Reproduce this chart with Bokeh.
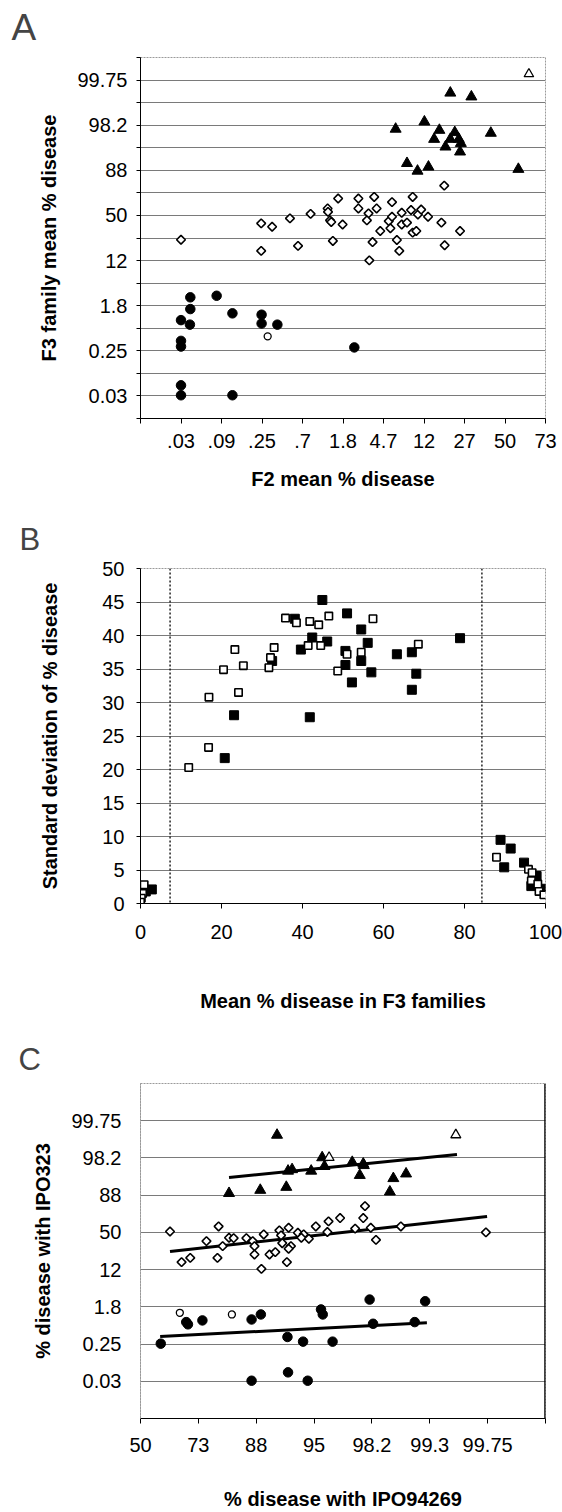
import numpy as np
from bokeh.plotting import figure
from bokeh.models import FixedTicker, Span, Range1d
from bokeh.layouts import column
from bokeh.embed import file_html
from bokeh.resources import INLINE

FONT = "Liberation Sans"

# ---------------- data (logit-scale positions for panels A and C) ----------------
# Panel A: x = F2 mean % disease (logit), y = F3 family mean % disease (logit)
a_x_ticks = [-9, -8, -7, -6, -5, -4, -3, -2, -1, 0, 1]
a_x_labels = ["", ".03", ".09", ".25", ".7", "1.8", "4.7", "12", "27", "50", "73"]
pct_ticks = [-8, -6, -4, -2, 0, 2, 4, 6]
pct_labels = ["0.03", "0.25", "1.8", "12", "50", "88", "98.2", "99.75"]

a_low_x = [-8.0, -7.77, -7.77, -7.78, -8.0, -8.0, -8.0, -8.0, -7.12, -6.73, -6.73, -6.01, -6.01, -5.62, -3.72]
a_low_y = [-4.64, -3.63, -4.15, -4.84, -5.56, -5.81, -7.53, -7.97, -3.56, -4.34, -7.97, -4.40, -4.79, -4.84, -5.85]
a_lowopen_x = [-5.86]
a_lowopen_y = [-5.36]
a_mid_x = [-8.0, -6.02, -5.75, -6.02, -5.31, -5.11, -4.80, -4.38, -4.37, -4.32, -4.29, -4.12, -4.01, -4.25,
           -3.62, -3.62, -3.37, -3.41, -3.23, -3.17, -3.08, -3.27, -3.35, -2.79, -2.87, -2.79, -2.83, -2.67,
           -2.61, -2.55, -2.55, -2.42, -2.28, -2.32, -2.15, -2.07, -2.28, -2.19, -1.90, -1.57, -1.50, -1.49, -1.11]
a_mid_y = [-1.08, -0.35, -0.50, -1.57, -0.13, -1.35, 0.07, 0.31, 0.16, -0.22, -0.29, 0.75, -0.40, -1.13,
           0.75, 0.31, 0.09, -0.22, 0.82, 0.31, -0.69, -1.18, -1.99, 0.59, -0.25, -0.06, -0.57, -1.09,
           -1.57, 0.12, -0.40, -0.32, 0.82, 0.24, 0.04, 0.26, -0.76, -0.69, -0.06, -0.32, 1.32, -1.32, -0.69]
a_high_x = [-1.35, -0.83, -2.70, -1.99, -1.62, -1.75, -1.24, -1.35, -1.47, -1.14, -1.09, -1.11, -0.35, -2.42, -2.16, -1.89, 0.33]
a_high_y = [5.43, 5.26, 3.83, 4.15, 3.78, 3.38, 3.68, 3.38, 3.04, 3.38, 3.20, 2.82, 3.65, 2.31, 1.97, 2.15, 2.05]
a_highopen_x = [0.59]
a_highopen_y = [6.27]

# Panel B: x = mean % disease in F3 families, y = standard deviation
b_ticks_x = [0, 20, 40, 60, 80, 100]
b_ticks_y = [0, 5, 10, 15, 20, 25, 30, 35, 40, 45, 50]
b_thresholds = [7.3, 84.3]
b_fill_x = [44.9, 51.0, 38.1, 54.5, 42.4, 46.1, 39.6, 56.1, 50.6, 54.5, 50.6, 63.3, 67.0, 68.1, 57.0, 52.2,
            67.0, 32.5, 23.1, 41.8, 78.9, 20.8, 88.9, 91.4, 89.8, 94.7, 97.8, 96.5, 98.9, 2.8, 1.3]
b_fill_y = [45.3, 43.3, 42.5, 40.9, 39.7, 39.1, 37.9, 38.9, 37.7, 36.2, 35.6, 37.2, 37.5, 34.3, 34.5, 33.0,
            31.9, 36.2, 28.1, 27.8, 39.6, 21.7, 9.5, 8.2, 5.4, 6.1, 4.1, 2.6, 2.2, 2.1, 1.8]
b_open_x = [35.8, 38.5, 41.8, 44.0, 46.5, 57.4, 41.4, 44.5, 51.0, 54.5, 68.6, 48.7, 23.3, 33.0, 32.1, 31.7,
            20.5, 25.4, 24.2, 16.9, 16.8, 11.9, 87.9, 95.8, 96.7, 96.5, 98.1, 98.4, 99.6, 0.9, 0.5, 0.2, 0.0]
b_open_y = [42.6, 41.9, 42.1, 41.6, 42.9, 42.5, 38.5, 38.5, 37.2, 37.5, 38.7, 34.7, 37.9, 38.2, 36.7, 35.2,
            34.9, 35.5, 31.5, 30.8, 23.3, 20.3, 6.9, 5.1, 4.6, 3.4, 2.9, 1.8, 1.3, 2.8, 1.5, 0.8, 0.2]

# Panel C: x = % disease with IPO94269 (logit), y = % disease with IPO323 (logit)
c_x_ticks = [0, 1, 2, 3, 4, 5, 6, 7]
c_x_labels = ["50", "73", "88", "95", "98.2", "99.3", "99.75", ""]
c_low_x = [0.35, 0.79, 0.82, 1.07, 1.92, 2.08, 2.54, 2.81, 3.32, 3.12, 3.15, 3.96, 4.02, 4.74, 4.92, 1.92, 2.55, 2.89]
c_low_y = [-5.98, -4.82, -4.94, -4.73, -4.68, -4.41, -5.62, -5.87, -5.87, -4.14, -4.41, -3.61, -4.91, -4.82, -3.70, -7.97, -7.52, -7.97]
c_lowopen_x = [0.68, 1.58]
c_lowopen_y = [-4.32, -4.41]
c_mid_x = [0.51, 0.71, 0.86, 1.14, 1.35, 1.33, 1.42, 1.53, 1.61, 1.83, 1.94, 1.97, 1.97, 2.09, 2.13, 2.23,
           2.33, 2.40, 2.43, 2.45, 2.56, 2.60, 2.56, 2.53, 2.72, 2.82, 2.78, 2.91, 3.03, 3.23, 3.25, 3.45,
           3.71, 3.85, 3.88, 3.98, 4.07, 4.50, 5.97]
c_mid_y = [0.05, -1.60, -1.37, -0.47, 0.32, -1.37, -0.74, -0.29, -0.31, -0.31, -0.47, -0.74, -1.19, -1.96, -0.11, -1.19,
           -1.06, 0.11, -0.16, -0.58, 0.25, -0.74, -0.88, -1.60, -0.02, -0.11, -0.29, -0.34, 0.32, 0.02, 0.59, 0.77,
           0.20, 0.77, 1.41, 0.25, -0.40, 0.32, 0.0]
c_high_x = [2.36, 3.14, 3.18, 2.55, 2.62, 2.95, 3.66, 3.85, 3.86, 3.79, 4.37, 4.59, 4.31, 2.52, 2.07, 1.53]
c_high_y = [5.23, 4.02, 3.55, 3.30, 3.38, 3.30, 3.77, 3.68, 3.60, 3.07, 2.90, 3.15, 2.18, 2.43, 2.27, 2.10]
c_highopen_x = [3.26, 5.45]
c_highopen_y = [4.02, 5.24]
c_fit_high_x = [1.53, 5.47]
c_fit_high_y = [2.95, 4.18]
c_fit_mid_x = [0.51, 5.99]
c_fit_mid_y = [-1.03, 0.85]
c_fit_low_x = [0.34, 4.95]
c_fit_low_y = [-5.60, -4.85]

GRID = "#7a7a7a"


def make_fig(letter, letter_size, height, xr, yr, bl, br, bt, bb, title_offset, title_standoff):
    p = figure(width=562, height=height, x_range=Range1d(*xr), y_range=Range1d(*yr),
               output_backend="svg", toolbar_location=None,
               min_border_left=bl, min_border_right=br, min_border_top=bt, min_border_bottom=bb)
    p.outline_line_color = "#9a9a9a"
    p.outline_line_dash = "2 1"
    p.outline_line_width = 1
    p.xgrid.visible = False
    p.ygrid.grid_line_color = GRID
    p.ygrid.grid_line_width = 1
    p.title.text = letter
    p.title.text_font = FONT
    p.title.text_font_size = letter_size
    p.title.text_font_style = "normal"
    p.title.align = "left"
    p.title.vertical_align = "top"
    p.title.offset = title_offset
    p.title.standoff = title_standoff
    for ax in (p.xaxis[0], p.yaxis[0]):
        ax.axis_line_color = "black"
        ax.axis_line_width = 1
        ax.major_tick_line_color = "black"
        ax.major_tick_out = 5
        ax.major_tick_in = 0
        ax.minor_tick_line_color = None
        ax.major_label_text_font = FONT
        ax.major_label_text_font_size = "20px"
        ax.major_label_text_color = "black"
        ax.axis_label_text_font = FONT
        ax.axis_label_text_font_size = "20px"
        ax.axis_label_text_font_style = "bold"
        ax.axis_label_text_color = "black"
    return p


def overrides(ticks, labels):
    return {t: l for t, l in zip(ticks, labels)}


# ---------------- Panel A ----------------
pA = make_fig("A", "37px", 500, (-9, 1), (-9, 7), 140, 10, 57, 82, -129, 13.5)
pA.xaxis.ticker = FixedTicker(ticks=a_x_ticks)
pA.xaxis.major_label_overrides = overrides(a_x_ticks, a_x_labels)
a_y_all = list(range(-9, 8))
a_y_lab = {t: "" for t in a_y_all}
a_y_lab.update(overrides(pct_ticks, pct_labels))
pA.yaxis.ticker = FixedTicker(ticks=a_y_all)
pA.yaxis.major_label_overrides = a_y_lab
pA.ygrid.ticker = FixedTicker(ticks=list(range(-8, 7)))
pA.xaxis.axis_label = "F2 mean % disease"
pA.yaxis.axis_label = "F3 family mean % disease"
pA.xaxis.major_label_standoff = 10
pA.xaxis.axis_label_standoff = 17
pA.yaxis.major_tick_out = 4
pA.yaxis.major_label_standoff = 9
pA.yaxis.axis_label_standoff = 14

pA.scatter(a_low_x, a_low_y, marker="circle", size=9.5, color="black")
pA.scatter(a_lowopen_x, a_lowopen_y, marker="circle", size=7, fill_color="white", line_color="black", line_width=1.3)
pA.scatter(a_mid_x, a_mid_y, marker="square", angle=np.pi / 4, size=6.2, fill_color="white", line_color="black", line_width=1.6)
pA.scatter(a_high_x, a_high_y, marker="triangle", size=11, color="black")
pA.scatter(a_highopen_x, a_highopen_y, marker="triangle", size=9.5, fill_color="white", line_color="black", line_width=1.3)

# ---------------- Panel B ----------------
pB = make_fig("B", "31px", 516, (0, 100), (0, 50), 137, 17, 68, 113, -121, 19)
pB.xaxis.ticker = FixedTicker(ticks=b_ticks_x)
pB.yaxis.ticker = FixedTicker(ticks=b_ticks_y)
pB.ygrid.ticker = FixedTicker(ticks=b_ticks_y[1:-1])
pB.xaxis.axis_label = "Mean % disease in F3 families"
pB.yaxis.axis_label = "Standard deviation of % disease"
pB.xaxis.major_label_standoff = 16
pB.xaxis.axis_label_standoff = 48
pB.yaxis.major_tick_out = 4
pB.yaxis.major_label_standoff = 12
pB.yaxis.axis_label_standoff = 38
for t in b_thresholds:
    pB.add_layout(Span(location=t, dimension="height", line_color="black", line_width=1.3, line_dash="2 2"))

pB.scatter(b_fill_x, b_fill_y, marker="square", size=9, color="black")
pB.scatter(b_open_x, b_open_y, marker="square", size=7.4, fill_color="white", line_color="black", line_width=1.6)

# ---------------- Panel C ----------------
pC = make_fig("C", "31px", 496, (0, 7), (-10, 8), 140, 14, 67, 94, -122, 9)
pC.xaxis.ticker = FixedTicker(ticks=c_x_ticks)
pC.xaxis.major_label_overrides = overrides(c_x_ticks, c_x_labels)
pC.yaxis.ticker = FixedTicker(ticks=pct_ticks)
pC.yaxis.major_label_overrides = overrides(pct_ticks, pct_labels)
pC.ygrid.ticker = FixedTicker(ticks=pct_ticks)
pC.yaxis.axis_line_color = "#9a9a9a"
pC.yaxis.axis_line_dash = "2 1"
pC.yaxis.major_tick_line_color = None
pC.xaxis.axis_label = "% disease with IPO94269"
pC.yaxis.axis_label = "% disease with IPO323"
pC.xaxis.major_label_standoff = 14
pC.xaxis.axis_label_standoff = 33
pC.yaxis.major_label_standoff = 14
pC.yaxis.axis_label_standoff = 14
pC.add_layout(Span(location=7, dimension="height", line_color="black", line_width=2.5))

pC.line(c_fit_high_x, c_fit_high_y, line_color="black", line_width=3)
pC.line(c_fit_mid_x, c_fit_mid_y, line_color="black", line_width=3)
pC.line(c_fit_low_x, c_fit_low_y, line_color="black", line_width=3)
pC.scatter(c_low_x, c_low_y, marker="circle", size=9.5, color="black")
pC.scatter(c_lowopen_x, c_lowopen_y, marker="circle", size=7, fill_color="white", line_color="black", line_width=1.3)
pC.scatter(c_mid_x, c_mid_y, marker="square", angle=np.pi / 4, size=6.2, fill_color="white", line_color="black", line_width=1.6)
pC.scatter(c_high_x, c_high_y, marker="triangle", size=11, color="black")
pC.scatter(c_highopen_x, c_highopen_y, marker="triangle", size=10, fill_color="white", line_color="black", line_width=1.3)

layout = column(pA, pB, pC, spacing=0)
open("out.html", "w").write(file_html(layout, INLINE))
